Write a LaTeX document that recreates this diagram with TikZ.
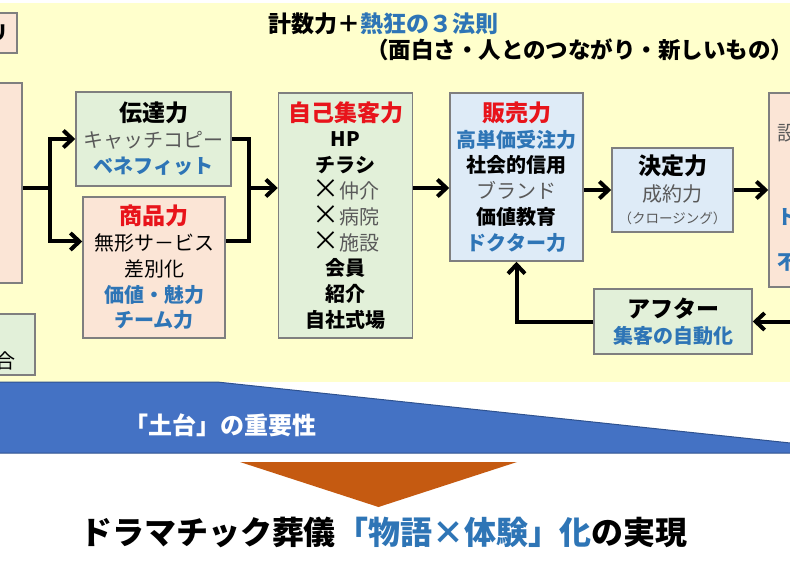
\documentclass[tikz,border=0pt]{standalone}
\usepackage{fontspec}
\setmainfont{Noto Sans CJK JP}
\usetikzlibrary{arrows.meta}
\definecolor{bgy}{HTML}{FFFFCC}
\definecolor{lgreen}{HTML}{E2F0D9}
\definecolor{lpink}{HTML}{FBE5D6}
\definecolor{lblue}{HTML}{DEEBF7}
\definecolor{bordergray}{HTML}{7F7F7F}
\definecolor{tred}{HTML}{E8141B}
\definecolor{tblue}{HTML}{2E75B6}
\definecolor{tgray}{HTML}{595959}
\definecolor{band}{HTML}{4472C4}
\definecolor{bandline}{HTML}{2F528F}
\definecolor{orng}{HTML}{C55A11}
\newcommand\mytitle[1]{{\fontsize{23}{26}\selectfont\bfseries #1}}
\newcommand\myred[1]{{\fontsize{23}{26}\selectfont\bfseries\color{tred}#1}}
\newcommand\myblue[1]{{\bfseries\color{tblue}#1}}
\newcommand\mygray[1]{{\color{tgray}#1}}
\newcommand\mybold[1]{{\bfseries #1}}
\newcommand\mycross{{\fontsize{27}{26}\selectfont ×}}
\begin{document}
\begin{tikzpicture}[x=1pt,y=-1pt,
  box/.style={draw=bordergray, line width=1.5pt, align=center, inner sep=0pt,
              font=\fontsize{20}{25.8}\selectfont},
  conn/.style={line width=4pt},
  arr/.style={line width=4pt, -{Straight Barb[length=9pt,width=17pt]}},
  lbl/.style={inner sep=0pt}]
\useasboundingbox (0,0) rectangle (790,564);
\clip (0,0) rectangle (790,564);
\fill[white] (0,0) rectangle (790,564);
\fill[bgy] (0,3) rectangle (790,382);
% band and triangle
\filldraw[fill=band, draw=bandline, line width=1pt] (-5,382) -- (217,382) -- (795,443.5) -- (795,453) -- (-5,453) -- cycle;
\fill[orng] (240,462) -- (517,462) -- (378.5,507) -- cycle;
% titles
\node[lbl, anchor=west, font=\fontsize{23}{26}\selectfont\bfseries] (t1) at (268,24) {計数力＋\textcolor{tblue}{熱狂の３法則}};
\node[lbl, anchor=west, font=\fontsize{22.5}{26}\selectfont\bfseries] (t2) at (366,50) {（面白さ・人とのつながり・新しいもの）\kern-10pt};
% edge boxes
\node[box, fill=lpink, minimum width=37, minimum height=40] (tl) at (-1.5,33) {};
\node[lbl, anchor=east, font=\fontsize{20}{24}\selectfont\bfseries] (tlt) at (9,33) {リ};
\node[box, fill=lpink, minimum width=62, minimum height=200] (lbig) at (-9,183) {};
\node[box, fill=lgreen, minimum width=75, minimum height=61] (bl) at (-2.5,344.5) {};
\node[lbl, font=\fontsize{20}{24}\selectfont] (blt) at (5,361) {合};
\node[box, fill=lpink, minimum width=61, minimum height=194] (rbox) at (799.5,190) {};
\node[lbl, anchor=west, font=\fontsize{20}{24}\selectfont, text=tgray] (r1) at (777,133) {設};
\node[lbl, anchor=west, font=\fontsize{20}{24}\selectfont\bfseries, text=tblue] (r2) at (777,217) {ト};
\node[lbl, anchor=west, font=\fontsize{20}{24}\selectfont\bfseries, text=tblue] (r3) at (777,263) {不};
% main boxes
\node[box, fill=lgreen, minimum width=155, minimum height=94] (den) at (153.5,139) {\mytitle{伝達力}\\ \mygray{キャッチコピー}\\ \myblue{ベネフィット}};
\node[box, fill=lpink, minimum width=142, minimum height=141] (sho) at (154,267.5) {\myred{商品力}\\ 無形サ－ビス\\ 差別化\\ \myblue{価値・魅力}\\ \myblue{チーム力}};
\node[box, fill=lgreen, minimum width=134, minimum height=245] (jik) at (345.5,215.5) {\myred{自己集客力}\\ \mybold{HP}\\ \mybold{チラシ}\\ \mycross\mygray{仲介}\\ \mycross\mygray{病院}\\ \mycross\mygray{施設}\\ \mybold{会員}\\ \mybold{紹介}\\ \mybold{自社式場}};
\node[box, fill=lblue, minimum width=133, minimum height=168] (han) at (516.5,177) {\myred{販売力}\\ \myblue{高単価受注力}\\ \mybold{社会的信用}\\ \mygray{ブランド}\\ \mybold{価値教育}\\ \myblue{ドクター力}};
\node[box, fill=lblue, minimum width=121, minimum height=84] (ket) at (672.5,190) {\mytitle{決定力}\\[1pt] \mygray{成約力}\\[-3pt] {\fontsize{13.5}{16}\selectfont\color{tgray}（クロージング）}};
\node[box, fill=lgreen, minimum width=158, minimum height=65] (aft) at (673,321.5) {\mytitle{アフター}\\ \myblue{集客の自動化}};
% band text and bottom text
\node[lbl, font=\fontsize{24}{26}\selectfont\bfseries, text=white] (bandt) at (220,425) {「土台」の重要性};
\node[lbl, font=\fontsize{32}{36}\selectfont\bfseries] (bottom) at (384,532) {ドラマチック葬儀\textcolor{tblue}{「物語×体験」化}の実現};
% connectors
\coordinate (sp) at (50,188);
\coordinate (mg) at (249,188);
\coordinate (rin) at (800,321);
\draw[conn] (lbig.east |- sp) -- (sp);
\draw[arr] (sp) |- (den.west);
\draw[arr] (sp) |- ([yshift=26pt]sho.west);
\draw[conn] (den.east) -| (mg);
\draw[conn] ([yshift=26pt]sho.east) -| (mg);
\draw[arr] (mg) -- (jik.west |- mg);
\draw[arr] (jik.east |- mg) -- (han.west |- mg);
\draw[arr] (han.east |- ket.west) -- (ket.west);
\draw[arr] (ket.east) -- (rbox.west |- ket.east);
\draw[arr] (rin |- aft.east) -- (aft.east);
\draw[arr] (aft.west) -| (han.south);
\end{tikzpicture}
\end{document}
